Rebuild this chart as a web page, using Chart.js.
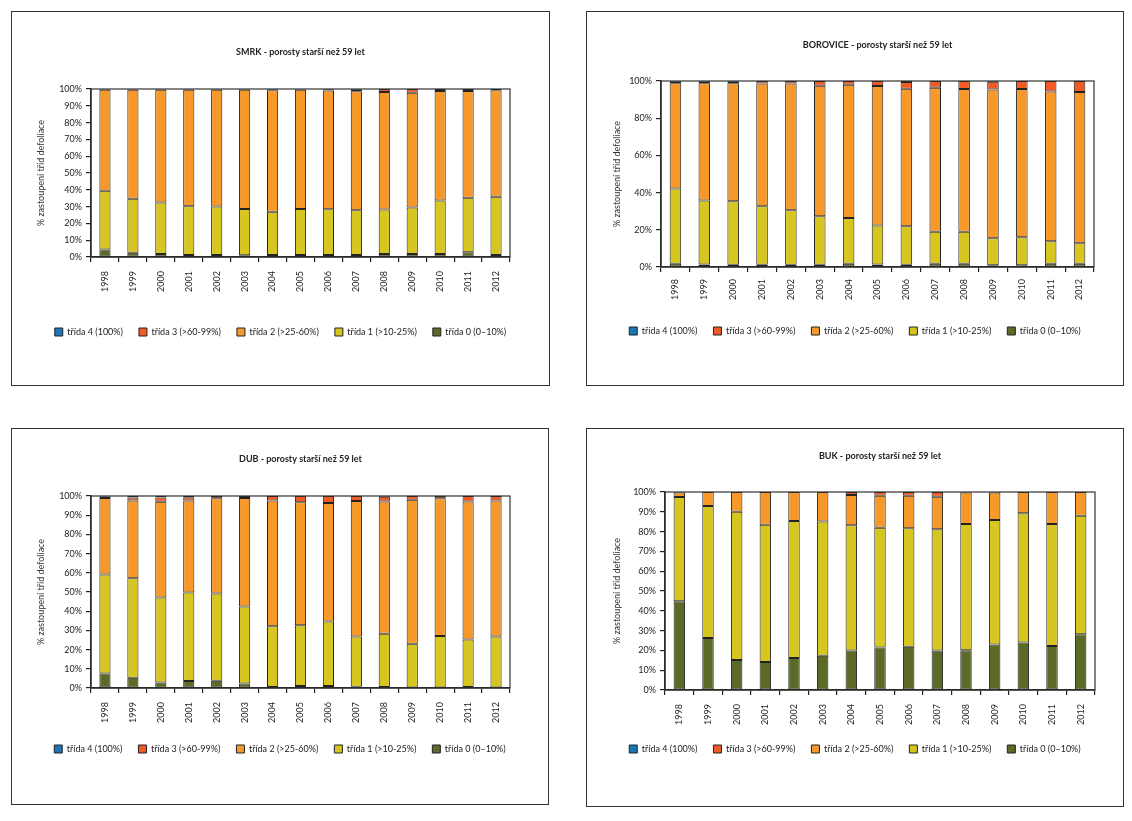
<!DOCTYPE html>
<html lang="cs">
<head>
<meta charset="utf-8">
<title>Defoliace - porosty starší než 59 let</title>
<script src="https://cdn.jsdelivr.net/npm/chart.js@4.4.1/dist/chart.umd.min.js"></script>
<style>
    body { margin: 0; background: #fff; }
    .panel { position: absolute; box-sizing: border-box; border: 1px solid #333; background: #fff; }
    .panel canvas { display: block; }
</style>
</head>
<body>
<div class="panel" id="p1" style="left:11px; top:11px; width:539px; height:375px;"><canvas id="c1"></canvas></div>
<div class="panel" id="p2" style="left:586px; top:11px; width:538px; height:375px;"><canvas id="c2"></canvas></div>
<div class="panel" id="p3" style="left:11px; top:428px; width:538px; height:377px;"><canvas id="c3"></canvas></div>
<div class="panel" id="p4" style="left:586px; top:428px; width:538px; height:379px;"><canvas id="c4"></canvas></div>
<script>
const years = ['1998', '1999', '2000', '2001', '2002', '2003', '2004', '2005', '2006', '2007', '2008', '2009', '2010', '2011', '2012'];
const classLabels = ['třída 0 (0–10%)', 'třída 1 (>10-25%)', 'třída 2 (>25-60%)', 'třída 3 (>60-99%)', 'třída 4 (100%)'];

// SMRK
const smrk0 = [4.4, 2.6, 1.8, 1.2, 1.2, 1.0, 1.2, 1.2, 1.2, 1.2, 1.8, 1.8, 1.8, 2.8, 1.2];
const smrk1 = [35.0, 32.0, 30.6, 29.0, 28.8, 27.6, 25.8, 27.4, 27.2, 26.6, 26.4, 27.6, 31.8, 32.4, 34.6];
const smrk2 = [60.1, 64.9, 67.1, 69.3, 69.5, 70.9, 72.3, 70.9, 70.7, 70.9, 70.0, 68.4, 65.2, 63.6, 63.4];
const smrk3 = [0.4, 0.4, 0.4, 0.4, 0.4, 0.4, 0.6, 0.4, 0.8, 1.2, 1.8, 2.2, 1.2, 1.2, 0.8];
const smrk4 = [0.1, 0.1, 0.1, 0.1, 0.1, 0.1, 0.1, 0.1, 0.1, 0.1, 0, 0, 0, 0, 0];

// BOROVICE
const bor0 = [1.8, 1.4, 1.2, 1.2, 1.2, 1.2, 1.8, 1.4, 1.2, 1.8, 1.8, 0.9, 0.9, 1.8, 1.8];
const bor1 = [40.4, 34.3, 34.1, 31.4, 29.3, 26.1, 24.6, 20.9, 20.7, 17.1, 17.1, 14.6, 15.1, 12.1, 11.0];
const bor2 = [56.6, 63.1, 63.5, 66.0, 68.1, 70.2, 71.6, 75.0, 74.0, 77.5, 76.8, 79.9, 79.7, 80.4, 81.3];
const bor3 = [1.0, 1.0, 1.0, 1.4, 1.4, 2.5, 2.0, 2.7, 3.6, 3.6, 4.3, 4.2, 4.3, 5.7, 5.9];
const bor4 = [0.2, 0.2, 0.2, 0, 0, 0, 0, 0, 0.5, 0, 0, 0.4, 0, 0, 0];

// DUB
const dub0 = [7.5, 5.4, 2.8, 3.7, 3.8, 2.3, 0.5, 1.0, 1.0, 0.7, 0.5, 0, 0, 0.5, 0];
const dub1 = [51.6, 51.8, 44.3, 46.0, 45.4, 40.1, 31.7, 31.7, 33.6, 26.1, 27.8, 23.1, 27.1, 24.7, 26.8];
const dub2 = [39.9, 40.4, 49.9, 47.9, 49.6, 56.6, 65.5, 64.0, 61.7, 70.6, 68.9, 75.0, 71.7, 72.0, 70.9];
const dub3 = [0.8, 1.6, 2.2, 1.8, 1.2, 1.0, 2.3, 3.3, 3.7, 2.6, 2.4, 1.9, 1.2, 2.8, 2.3];
const dub4 = [0.2, 0.8, 0.8, 0.6, 0, 0, 0, 0, 0, 0, 0.4, 0, 0, 0, 0];

// BUK
const buk0 = [44.8, 26.2, 15.1, 14.2, 16.1, 17.3, 20.0, 21.5, 21.8, 20.0, 20.1, 23.0, 24.0, 22.2, 28.1];
const buk1 = [52.7, 66.7, 74.9, 69.2, 69.2, 67.8, 63.2, 60.4, 59.9, 61.2, 63.8, 62.9, 65.3, 61.6, 59.9];
const buk2 = [2.2, 7.1, 10.0, 16.6, 14.7, 14.9, 15.3, 16.2, 16.4, 16.4, 15.8, 13.8, 10.7, 16.2, 12.0];
const buk3 = [0.3, 0, 0, 0, 0, 0, 1.5, 1.9, 1.9, 2.4, 0.3, 0.3, 0, 0, 0];
const buk4 = [0, 0, 0, 0, 0, 0, 0, 0, 0, 0, 0, 0, 0, 0, 0];

const classColors = ['#5b6a27', '#d6c61f', '#f7982a', '#f15a24', '#1b75bb'];

Chart.defaults.font.family = 'Lato, "DejaVu Sans", sans-serif';
Chart.defaults.font.size = 9;
Chart.defaults.color = '#222';

// frame round the plot area (top and right edges)
const framePlugin = {
    id: 'frame',
    afterDatasetsDraw(chart) {
        const a = chart.chartArea;
        const ctx = chart.ctx;
        ctx.save();
        ctx.strokeStyle = '#333';
        ctx.lineWidth = 1.2;
        ctx.strokeRect(a.left, a.top, a.right - a.left, a.bottom - a.top);
        ctx.restore();
    }
};

function makeChart(id, title, series, step, lay) {
    const canvas = document.getElementById(id);
    const panel = canvas.parentElement;
    canvas.width = panel.clientWidth;
    canvas.height = panel.clientHeight;

    const datasets = series.map(function (values, i) {
        return {
            label: classLabels[i],
            data: values,
            backgroundColor: classColors[i],
            borderColor: '#222',
            borderWidth: 1,
            borderSkipped: false,
            barPercentage: 0.4,
            categoryPercentage: 1
        };
    });

    return new Chart(canvas.getContext('2d'), {
        type: 'bar',
        data: { labels: years, datasets: datasets },
        plugins: [framePlugin],
        options: {
            responsive: false,
            animation: false,
            layout: { padding: { left: 0, right: 0, top: 0, bottom: lay.padBottom } },
            scales: {
                x: {
                    stacked: true,
                    grid: { offset: true, drawOnChartArea: false, drawTicks: true, tickLength: 5, color: '#222', lineWidth: 1.2 },
                    border: { color: '#222', width: 1.5 },
                    ticks: { minRotation: 90, maxRotation: 90, autoSkip: false, padding: lay.xPad, color: '#222' },
                    afterFit: function (scale) { scale.height = lay.xHeight; }
                },
                y: {
                    stacked: true,
                    min: 0,
                    max: 100,
                    grid: { drawOnChartArea: false, drawTicks: true, tickLength: 5, color: '#222', lineWidth: 1.2 },
                    border: { color: '#222', width: 1.5 },
                    ticks: {
                        stepSize: step,
                        padding: 4,
                        color: '#222',
                        callback: function (v) { return v + '%'; }
                    },
                    title: {
                        display: true,
                        text: '% zastoupení tříd defoliace',
                        color: '#333',
                        font: { size: 9 },
                        padding: { top: lay.yTitle, bottom: 0 }
                    },
                    afterFit: function (scale) { scale.width = lay.yWidth; }
                },
                // empty spacer on the right so the legend stays centred in the panel
                spacer: {
                    type: 'linear',
                    position: 'right',
                    display: true,
                    grid: { display: false },
                    border: { display: false },
                    ticks: { display: false },
                    afterFit: function (scale) { scale.width = lay.padRight; }
                }
            },
            plugins: {
                title: {
                    display: true,
                    text: title,
                    fullSize: false,
                    color: '#222',
                    font: { size: 9, weight: 'bold' },
                    padding: { top: lay.titleTop, bottom: lay.titleBottom }
                },
                legend: {
                    position: 'bottom',
                    reverse: true,
                    labels: {
                        boxWidth: 8,
                        boxHeight: 8,
                        padding: 16,
                        color: '#222',
                        font: { size: 9 }
                    }
                },
                tooltip: { enabled: false }
            }
        }
    });
}

makeChart('c1', 'SMRK - porosty starší než 59 let', [smrk0, smrk1, smrk2, smrk3, smrk4], 10,
    { padRight: 39, padBottom: 38.5, xHeight: 54.5, xPad: 9, yWidth: 79, yTitle: 23.6, titleTop: 34.6, titleBottom: 31.6 });
makeChart('c2', 'BOROVICE - porosty starší než 59 let', [bor0, bor1, bor2, bor3, bor4], 20,
    { padRight: 29, padBottom: 39.5, xHeight: 43.5, xPad: 7, yWidth: 74, yTitle: 24.6, titleTop: 27.6, titleBottom: 30.6 });
makeChart('c3', 'DUB - porosty starší než 59 let', [dub0, dub1, dub2, dub3, dub4], 10,
    { padRight: 38, padBottom: 40.5, xHeight: 40.5, xPad: 9, yWidth: 79, yTitle: 23.6, titleTop: 24.6, titleBottom: 31.6 });
makeChart('c4', 'BUK - porosty starší než 59 let', [buk0, buk1, buk2, buk3, buk4], 10,
    { padRight: 28, padBottom: 42.5, xHeight: 38.5, xPad: 9, yWidth: 78, yTitle: 24.6, titleTop: 21.6, titleBottom: 30.6 });
</script>
</body>
</html>
